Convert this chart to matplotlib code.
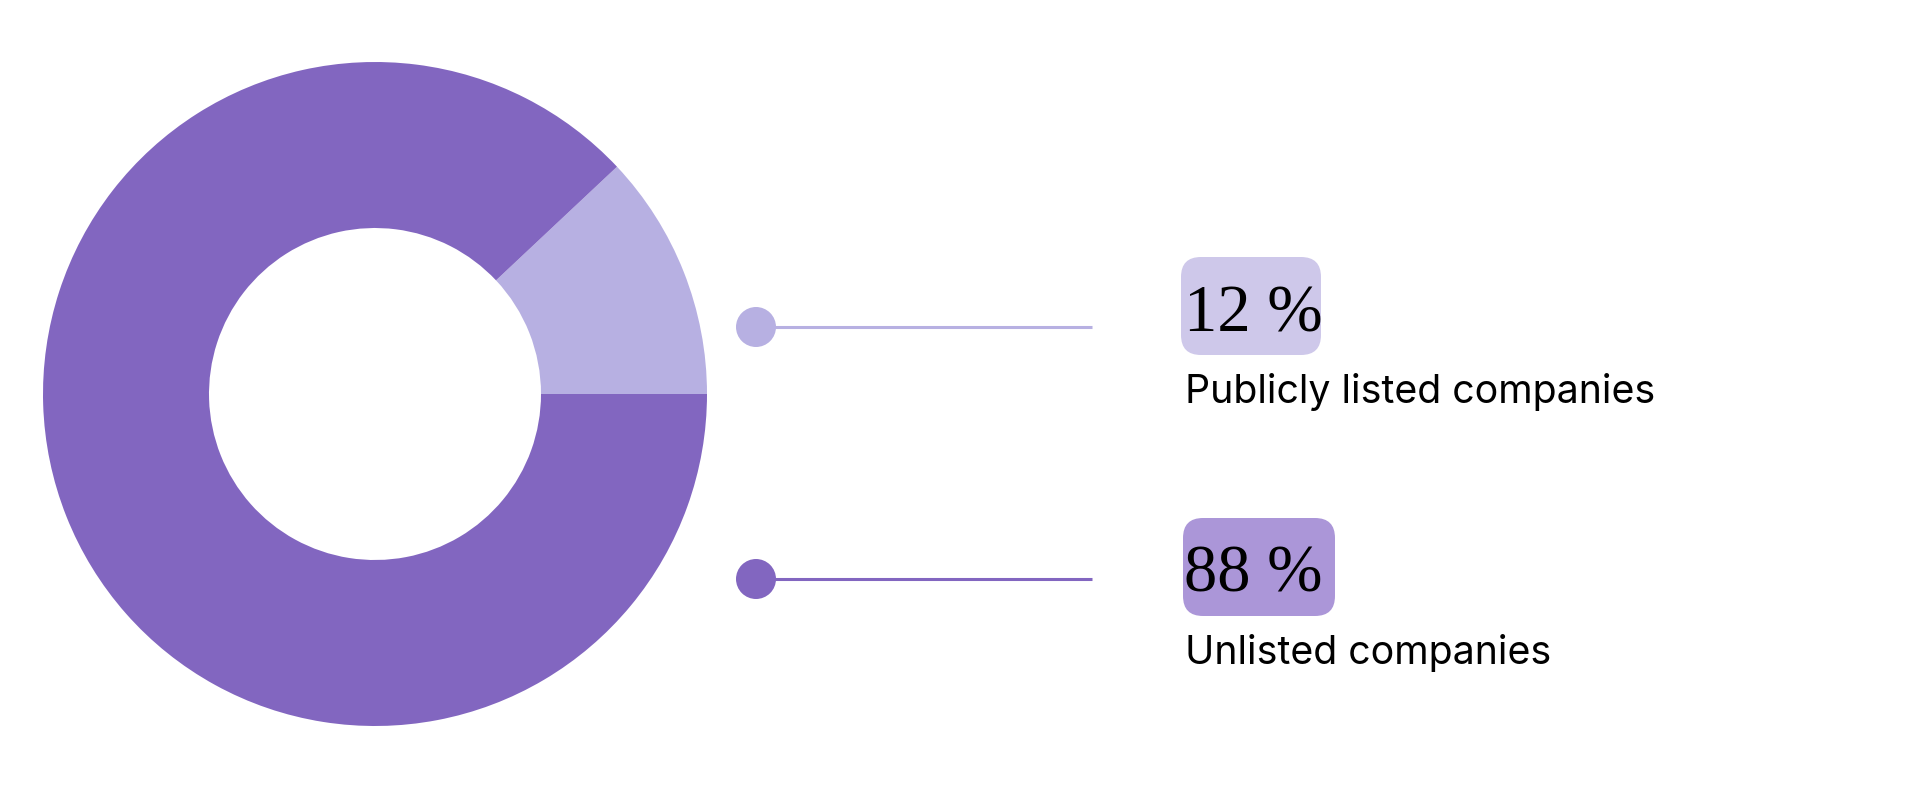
import matplotlib.pyplot as plt
from matplotlib.patches import FancyBboxPatch, Circle

labels = ['Publicly listed companies', 'Unlisted companies']
shares = [12, 88]
value_labels = ['12 %', '88 %']
slice_colors = ['#B7B0E2', '#8266C0']
box_colors = ['#CEC8EA', '#AB96D8']

H = 800
fig = plt.figure(figsize=(19.2, 8), dpi=100)
ax = fig.add_axes([0, 0, 1, 1])

# donut
ax.pie(shares, colors=slice_colors, radius=332, center=(375, H - 394),
       startangle=0, counterclock=True,
       wedgeprops=dict(width=166, linewidth=0))

# legend rows: dot + leader line, rounded value box, label
dot_y = [327, 579]
box_top = [257, 518]
box_x = [1181, 1183]
box_w = [140, 152]
for i in range(2):
    y = H - dot_y[i]
    ax.plot([756, 1092], [y, y], color=slice_colors[i], lw=2.2,
            solid_capstyle='butt', zorder=2)
    ax.add_patch(Circle((756, y), 20, color=slice_colors[i], lw=0, zorder=3))

    top = box_top[i]
    ax.add_patch(FancyBboxPatch((box_x[i], H - top - 98), box_w[i], 98,
                                boxstyle='round,pad=0,rounding_size=20',
                                fc=box_colors[i], ec='none', zorder=2))
    ax.text(1184, H - (top + 74), value_labels[i], fontsize=48,
            family='Liberation Serif', color='black', va='baseline',
            ha='left', zorder=4)
    ax.text(1185, H - (top + 146), labels[i], fontsize=28.3,
            family='Inter', color='black', va='baseline', ha='left')

ax.set_xlim(0, 1920)
ax.set_ylim(0, H)
ax.set_aspect('equal')
ax.axis('off')

fig.savefig('out.png', dpi=100, facecolor='white')
